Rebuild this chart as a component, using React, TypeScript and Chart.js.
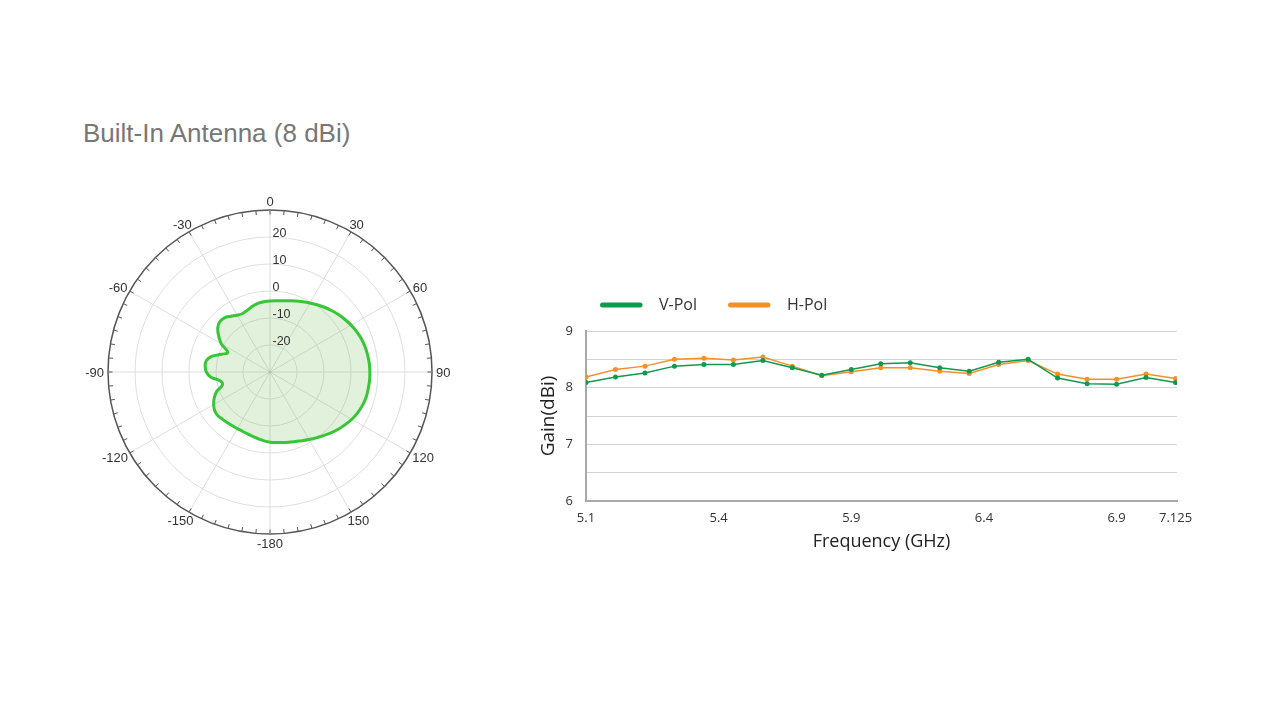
import React, { useEffect, useRef } from 'react';
import { Chart, registerables } from 'chart.js';

Chart.register(...registerables);

// ---------- Data ----------
const TITLE = 'Built-In Antenna (8 dBi)';

// Polar pattern: angle (deg, clockwise from top) and gain (dB)
const patternAngles = [
  0, 5, 10, 15, 20, 25, 30, 35, 40, 45, 50, 55,
  60, 65, 70, 75, 80, 85, 90, 95, 100, 105, 110, 115,
  120, 125, 130, 135, 140, 145, 150, 155, 160, 165, 170, 175,
  180, 185, 190, 195, 200, 205, 210, 215, 220, 225, 230, 235,
  240, 245, 250, 255, 260, 265, 270, 275, 280, 285, 290, 295,
  300, 305, 310, 315, 320, 325, 330, 335, 340, 345, 350, 355,
];
const patternGainDb = [
  -3.7, -3.5, -3.2, -2.7, -2.0, -1.3, -0.5, 0.4, 1.3, 2.2, 3.1, 3.9,
  4.7, 5.4, 6.0, 6.4, 6.7, 6.9, 7.0, 7.0, 6.9, 6.8, 6.4, 5.8,
  5.0, 4.0, 3.0, 1.9, 0.8, -0.2, -1.1, -1.9, -2.6, -3.1, -3.5, -3.8,
  -4.0, -4.4, -4.9, -5.3, -5.6, -5.8, -5.8, -5.7, -5.5, -5.2, -4.8, -5.0,
  -5.9, -7.2, -9.0, -11.8, -11.2, -8.0, -6.4, -5.9, -6.0, -7.6, -10.8, -12.8,
  -9.2, -6.8, -4.7, -3.7, -3.8, -4.8, -5.7, -6.1, -5.6, -4.8, -4.2, -3.9,
];
const angleAxisAngles = [0, 30, 60, 90, 120, 150, 180, 210, 240, 270, 300, 330];
const angleAxisLabels = ['0', '30', '60', '90', '120', '150', '-180', '-150', '-120', '-90', '-60', '-30'];
const ringTickValues = [-20, -10, 0, 10, 20];

// Gain vs frequency
const seriesNames = ['V-Pol', 'H-Pol'];
const vPolGain = [8.09, 8.19, 8.26, 8.38, 8.41, 8.41, 8.48, 8.35, 8.22, 8.32, 8.42, 8.44, 8.35, 8.29, 8.45, 8.50, 8.17, 8.07, 8.06, 8.18, 8.09];
const hPolGain = [8.19, 8.32, 8.38, 8.50, 8.52, 8.49, 8.54, 8.38, 8.21, 8.28, 8.35, 8.35, 8.29, 8.25, 8.41, 8.48, 8.24, 8.15, 8.15, 8.24, 8.16];
const freqTickPositions = [0, 4.5, 9, 13.5, 18, 20];
const freqTickLabels = ['5.1', '5.4', '5.9', '6.4', '6.9', '7.125'];

const V_COLOR = '#129a4c';
const H_COLOR = '#f3902a';
const POLAR_FONT = '"Liberation Sans", Arial, sans-serif';
const LINE_FONT = '"Open Sans", "Noto Sans", sans-serif';

// ---------- Plugins ----------
const polarDecor = {
  id: 'polarDecor',
  afterDatasetsDraw(chart: any) {
    const scale = chart.scales.r;
    const ctx = chart.ctx as CanvasRenderingContext2D;
    const R = scale.drawingArea;
    const cx = scale.xCenter;
    const cy = scale.yCenter;
    const n = chart.data.labels.length;
    ctx.save();
    // outer ring tick marks
    ctx.strokeStyle = '#555';
    ctx.lineWidth = 1;
    for (let i = 0; i < n; i++) {
      const a = scale.getPointPosition(i, R);
      const b = scale.getPointPosition(i, R - 4.5);
      ctx.beginPath();
      ctx.moveTo(a.x, a.y);
      ctx.lineTo(b.x, b.y);
      ctx.stroke();
    }
    // center dot
    ctx.fillStyle = '#bbb';
    ctx.beginPath();
    ctx.arc(cx, cy, 1.5, 0, Math.PI * 2);
    ctx.fill();
    // ring labels
    ctx.font = '12.5px ' + POLAR_FONT;
    ctx.fillStyle = '#333';
    ctx.textAlign = 'left';
    ctx.textBaseline = 'middle';
    ringTickValues.forEach((v) => {
      const d = scale.getDistanceFromCenterForValue(v);
      ctx.fillText(String(v), cx + 2.5, cy - d - 3);
    });
    // angle labels
    ctx.font = '13px ' + POLAR_FONT;
    ctx.textAlign = 'center';
    angleAxisAngles.forEach((ang, k) => {
      const idx = patternAngles.indexOf(ang);
      const t = angleAxisLabels[k];
      const th = scale.getIndexAngle(idx);
      const p = scale.getPointPosition(idx, R + 4);
      const w = ctx.measureText(t).width;
      const h = 9.5;
      ctx.fillText(t, p.x + Math.sin(th) * w / 2, p.y - Math.cos(th) * h / 2 + 1.5);
    });
    ctx.restore();
  },
};

const lineLegend = {
  id: 'lineLegend',
  afterDraw(chart: any) {
    const { ctx, chartArea } = chart;
    let x = chartArea.left + 14;
    const y = chartArea.top - 26;
    ctx.save();
    ctx.font = '16px ' + LINE_FONT;
    ctx.textBaseline = 'middle';
    ctx.textAlign = 'left';
    chart.data.datasets.forEach((ds: any) => {
      ctx.strokeStyle = ds.borderColor;
      ctx.lineWidth = 5;
      ctx.lineCap = 'round';
      ctx.beginPath();
      ctx.moveTo(x + 2.5, y);
      ctx.lineTo(x + 40, y);
      ctx.stroke();
      const tx = x + 59;
      ctx.fillStyle = '#333';
      ctx.fillText(ds.label, tx, y);
      x = tx + ctx.measureText(ds.label).width + 31;
    });
    ctx.restore();
  },
};

export default function App() {
  const polarRef = useRef<HTMLCanvasElement>(null);
  const lineRef = useRef<HTMLCanvasElement>(null);

  useEffect(() => {
    const polar = new Chart(polarRef.current as HTMLCanvasElement, {
      type: 'radar',
      data: {
        labels: patternAngles.map(String),
        datasets: [
          {
            data: patternGainDb,
            borderColor: '#36c636',
            borderWidth: 3,
            backgroundColor: 'rgba(120,190,90,0.22)',
            fill: 'start',
            pointRadius: 0,
            tension: 0.35,
          },
        ],
      },
      options: {
        animation: false,
        responsive: false,
        devicePixelRatio: 1,
        layout: { padding: 38 },
        plugins: { legend: { display: false }, tooltip: { enabled: false } },
        scales: {
          r: {
            min: -30,
            max: 30,
            ticks: { stepSize: 10, display: false },
            pointLabels: { display: false },
            grid: {
              circular: true,
              color: (c: any) => (c.tick && c.tick.value === 30 ? '#555' : '#dedede'),
              lineWidth: (c: any) => (c.tick && c.tick.value === 30 ? 1.5 : 1),
            },
            angleLines: {
              color: (c: any) => (c.index % 6 === 0 ? '#dedede' : 'rgba(0,0,0,0)'),
              lineWidth: (c: any) => (c.index % 6 === 0 ? 1 : 0),
            },
          },
        },
      } as any,
      plugins: [polarDecor],
    });

    const line = new Chart(lineRef.current as HTMLCanvasElement, {
      type: 'line',
      data: {
        datasets: [
          {
            label: seriesNames[0],
            data: vPolGain.map((v, i) => ({ x: i, y: v })),
            borderColor: V_COLOR,
            backgroundColor: V_COLOR,
            borderWidth: 1.5,
            pointRadius: 2.5,
            pointBorderWidth: 0,
            tension: 0,
          },
          {
            label: seriesNames[1],
            data: hPolGain.map((v, i) => ({ x: i, y: v })),
            borderColor: H_COLOR,
            backgroundColor: H_COLOR,
            borderWidth: 1.5,
            pointRadius: 2.5,
            pointBorderWidth: 0,
            tension: 0,
          },
        ],
      },
      options: {
        animation: false,
        responsive: false,
        devicePixelRatio: 1,
        layout: { padding: { left: 13, right: 43, top: 51, bottom: 3 } },
        plugins: { legend: { display: false }, tooltip: { enabled: false } },
        scales: {
          x: {
            type: 'linear',
            min: 0,
            max: 20.05,
            afterBuildTicks: (s: any) => {
              s.ticks = freqTickPositions.map((v) => ({ value: v }));
            },
            afterFit: (s: any) => {
              s.height = 56;
            },
            ticks: {
              callback: (_v: any, i: number) => freqTickLabels[i],
              autoSkip: false,
              maxRotation: 0,
              padding: 9,
              color: '#333',
              font: { family: LINE_FONT, size: 13 },
            },
            grid: { display: false, drawTicks: false },
            border: { display: true, color: '#a8a8a8', width: 2 },
            title: {
              display: true,
              text: 'Frequency (GHz)',
              color: '#222',
              font: { family: LINE_FONT, size: 18 },
              padding: { top: 4, bottom: 4 },
            },
          },
          y: {
            min: 6,
            max: 9,
            afterFit: (s: any) => {
              s.width = 53;
            },
            ticks: {
              stepSize: 0.5,
              callback: (v: any) => (Number.isInteger(v) ? String(v) : ''),
              padding: 13,
              color: '#333',
              font: { family: LINE_FONT, size: 13 },
            },
            grid: { color: '#d4d4d4', lineWidth: 1, drawTicks: false },
            border: { display: true, color: '#a8a8a8', width: 2 },
            title: {
              display: true,
              text: 'Gain(dBi)',
              color: '#222',
              font: { family: LINE_FONT, size: 19 },
              padding: { top: 4, bottom: 4 },
            },
          },
        },
      } as any,
      plugins: [lineLegend],
    });

    return () => {
      polar.destroy();
      line.destroy();
    };
  }, []);

  return (
    <div
      style={{
        position: 'fixed',
        left: 0,
        top: 0,
        width: 1280,
        height: 720,
        background: '#fff',
        overflow: 'hidden',
      }}
    >
      <div
        style={{
          position: 'absolute',
          left: 83,
          top: 118,
          fontFamily: POLAR_FONT,
          fontSize: 26,
          lineHeight: '30px',
          color: '#777',
          whiteSpace: 'nowrap',
        }}
      >
        {TITLE}
      </div>
      <canvas
        ref={polarRef}
        width={400}
        height={400}
        style={{ position: 'absolute', left: 70, top: 172, width: 400, height: 400 }}
      />
      <canvas
        ref={lineRef}
        width={700}
        height={280}
        style={{ position: 'absolute', left: 520, top: 280, width: 700, height: 280 }}
      />
    </div>
  );
}
